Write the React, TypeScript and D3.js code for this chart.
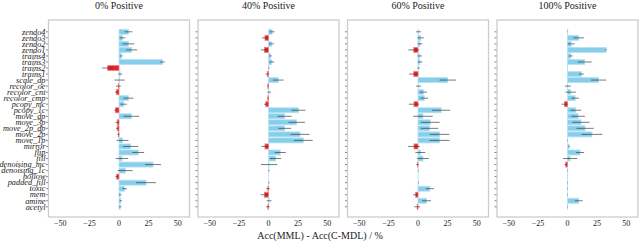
import React from 'react';
import * as d3 from 'd3';

const categories = [
  'zendo4', 'zendo3', 'zendo2', 'zendo1', 'trains4', 'trains3', 'trains2', 'trains1',
  'scale_dp', 'recolor_oe', 'recolor_cnt', 'recolor_cmp', 'pcopy_mc', 'pcopy_1c',
  'move_dp', 'move_3p', 'move_2p_dp', 'move_2p', 'move_1p', 'mirror', 'flip', 'fill',
  'denoising_mc', 'denoising_1c', 'hollow', 'padded_fill', 'toxic', 'mem', 'amine', 'acetyl',
];

const titles = ['0% Positive', '40% Positive', '60% Positive', '100% Positive'];

const values0 = [8.1, 3, 8, 10.8, 2, 37, -9.6, 1, 0.5, -0.5, -2.3, 8, 4, -3, 10.5, -1.5, -1.5, -0.5, 3, 10, 16.4, 2.5, 29, 5.3, -2, 23, 4.8, 1, 1.5, 1];
const errors0 = [3.3, 2.4, 5, 4.7, 1, 2, 4.8, 1.5, 4.3, 2, 1, 4.3, 2.7, 1, 6.8, 1.5, 1, 1, 5, 6.5, 5, 5.3, 6.8, 6.3, 1, 8.4, 2, 1, 1, 1];

const values40 = [3.1, -3, 2.5, -3.5, 1.7, 2.8, 0.3, -1, 8.3, -0.5, 0.5, -0.5, -2.3, 25.4, 13.7, 24, 13.7, 26.8, 29.6, -3, 10, 6, 0.5, 0.3, 0, 0.3, -0.5, -3.5, 0.5, -0.5];
const errors40 = [2, 2.5, 2, 3, 1, 2, 0.5, 1.5, 4.5, 0.5, 1.5, 0.5, 1.5, 6, 6, 7, 5.5, 8, 8, 3, 4.7, 4.7, 7, 0.5, 0, 0.5, 1.5, 3, 2, 1.5];

const values60 = [0.5, 2.2, 1.7, -3.6, 1.4, 1.7, 0.5, -3.6, 25.3, 0.5, 4.5, 5.3, -3.4, 19.7, 4.2, 10.4, 9.8, 18.3, 18.3, -3.4, 2, 4.2, -0.5, 0.2, 0, 0.3, 10, -2, 7.3, -0.7];
const errors60 = [2, 2.7, 2, 4.6, 2, 2, 1, 4, 7, 2, 3, 3.2, 4.3, 7.7, 8.3, 8, 7.4, 8.3, 8.6, 5, 4.2, 5, 1, 0.3, 0, 0.3, 3.4, 2.2, 3.8, 2.4];

const values100 = [0.2, 9.6, 3.1, 32.9, 2.8, 14.6, 0.1, 11.8, 26.4, 0.3, 2.8, 6.5, -2.5, 7, 9, 11.5, 14.9, 20.8, 0.2, 1.4, 10.7, 2.2, -1.5, 0.2, 0.1, 0.1, 0.1, 0.1, 9.6, 0.1];
const errors100 = [0.3, 4.4, 3, 0.5, 1.5, 6, 0, 2, 6.5, 2.5, 4.5, 3.2, 2.5, 4.5, 5.8, 7.3, 7.4, 8.8, 0.3, 0.6, 3.4, 6, 1, 0.3, 0, 0.3, 0.3, 0.3, 3.4, 0.3];

const xTicks = [-50, -25, 0, 25, 50];
const xLabel = 'Acc(MML) - Acc(C-MDL) / %';

const panels = [
  { title: titles[0], values: values0, errors: errors0 },
  { title: titles[1], values: values40, errors: errors40 },
  { title: titles[2], values: values60, errors: errors60 },
  { title: titles[3], values: values100, errors: errors100 },
];

const W = 640;
const H = 251;
const panelLefts = [48.5, 198, 347.5, 497];
const panelW = 141;
const top = 20;
const bottom = 217;
const serif = "'Liberation Serif', 'DejaVu Serif', serif";

export default function App() {
  const y = d3.scaleBand<string>().domain(categories).range([29.3, 209.3]).paddingInner(0.17);
  const fmt = (t: number) => (t < 0 ? '\u2212' + Math.abs(t) : String(t));

  return (
    <svg width={W} height={H} style={{ position: 'absolute', left: 0, top: 0, background: '#fff' }}>
      {panels.map((p, pi) => {
        const left = panelLefts[pi];
        const x = d3.scaleLinear().domain([-60, 60]).range([left, left + panelW]);
        return (
          <g key={pi}>
            <text x={(left + left + panelW) / 2} y={9} textAnchor="middle" fontFamily={serif} fontSize={10} fill="#222">
              {p.title}
            </text>
            {categories.map((c, i) => {
              const v = p.values[i];
              const e = p.errors[i];
              const yy = y(c)!;
              const bh = y.bandwidth();
              const x0 = x(Math.min(0, v));
              const x1 = x(Math.max(0, v));
              const neg = v < 0;
              return (
                <g key={c}>
                  <rect
                    x={x0}
                    y={yy}
                    width={Math.max(0.01, x1 - x0)}
                    height={bh}
                    fill={neg ? '#e8252b' : '#87ceeb'}
                    stroke={neg ? '#f07a7e' : '#b5e2f3'}
                    strokeWidth={0.8}
                  />
                  {e > 0 && (
                    <line
                      x1={x(v - e)}
                      x2={x(v + e)}
                      y1={yy + bh / 2}
                      y2={yy + bh / 2}
                      stroke="#3a3a3a"
                      strokeWidth={0.8}
                      strokeOpacity={0.85}
                    />
                  )}
                  <line x1={left - 2.5} x2={left} y1={yy + bh / 2} y2={yy + bh / 2} stroke="#333" strokeWidth={0.6} />
                  {pi === 0 && (
                    <text
                      x={45.5}
                      y={yy + bh / 2}
                      dy="0.33em"
                      textAnchor="end"
                      fontFamily={serif}
                      fontStyle="italic"
                      fontSize={8.3}
                      fill="#222"
                    >
                      {c}
                    </text>
                  )}
                </g>
              );
            })}
            <rect x={left} y={top} width={panelW} height={bottom - top} fill="none" stroke="#cccccc" strokeWidth={1.3} />
            {xTicks.map((t) => (
              <text key={t} x={x(t)} y={226} textAnchor="middle" fontFamily={serif} fontSize={8} fill="#222">
                {fmt(t)}
              </text>
            ))}
          </g>
        );
      })}
      <text x={320} y={239} textAnchor="middle" fontFamily={serif} fontSize={10} fill="#222">
        {xLabel}
      </text>
    </svg>
  );
}
